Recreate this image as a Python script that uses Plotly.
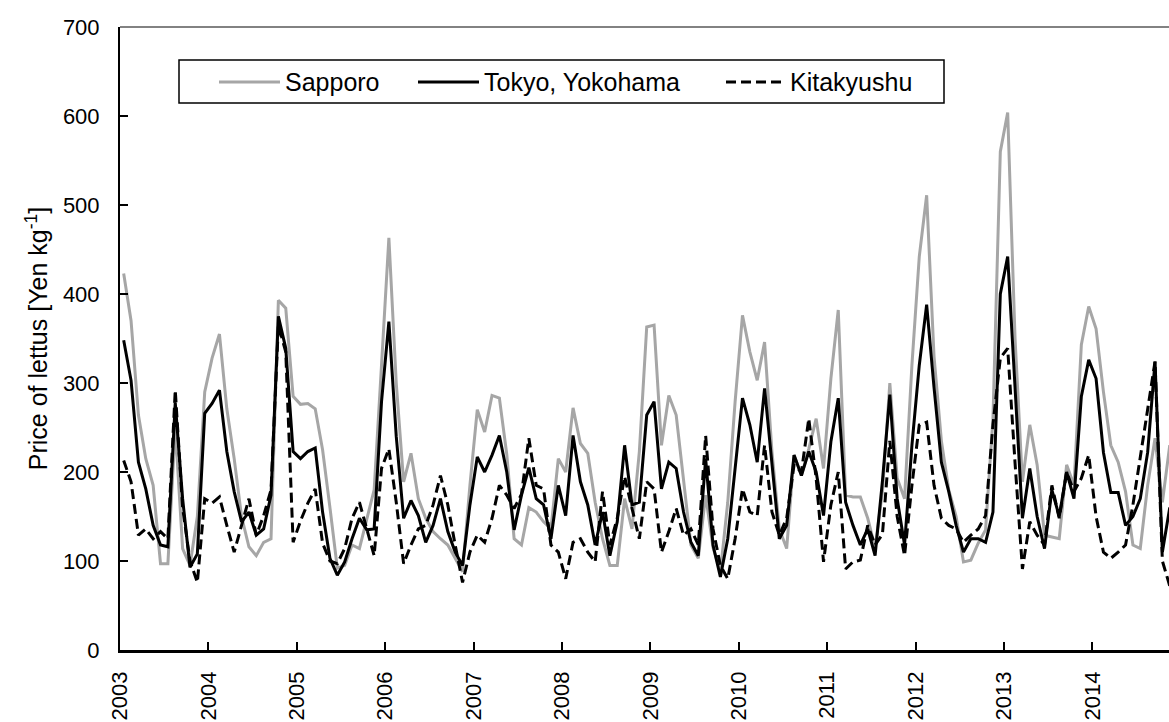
import plotly.graph_objects as go

# Monthly wholesale price of lettuce (Yen per kg), Jan 2003 - Dec 2014
years = [str(y) for y in range(2003, 2015)]

sapporo = [
    423, 370, 264, 215, 185, 97, 97, 250, 114, 95, 150, 290,
    328, 355, 271, 215, 150, 116, 106, 121, 125, 393, 384, 285,
    276, 277, 271, 225, 160, 92, 95, 118, 114, 148, 180, 320,
    463, 300, 189, 221, 170, 148, 133, 125, 118, 103, 88, 185,
    270, 245, 286, 283, 220, 125, 118, 160, 155, 144, 136, 215,
    200, 272, 232, 221, 166, 125, 95, 95, 170, 136, 223, 363,
    365, 230, 286, 264, 193, 118, 103, 174, 115, 88, 166, 279,
    376, 335, 303, 346, 223, 136, 114, 219, 196, 226, 260, 204,
    305, 382, 174, 172, 172, 148, 115, 178, 300, 193, 170, 320,
    442, 511, 330, 235, 180, 150, 99, 101, 120, 135, 260, 560,
    604, 350, 189, 253, 208, 129, 127, 125, 208, 185, 343, 386,
    361, 290, 230, 211, 178, 118, 114, 185, 238, 166, 230, 200,
]

tokyo_yokohama = [
    348, 303, 211, 181, 140, 118, 116, 278, 170, 93, 108, 266,
    277, 292, 223, 178, 144, 155, 129, 136, 174, 375, 339, 223,
    215, 223, 227, 155, 103, 84, 99, 125, 148, 135, 136, 279,
    369, 240, 148, 168, 151, 121, 140, 170, 133, 110, 95, 163,
    217, 200, 219, 241, 200, 135, 174, 205, 170, 163, 125, 185,
    151, 241, 189, 163, 118, 155, 106, 144, 230, 163, 166, 264,
    279, 181, 211, 204, 155, 121, 106, 215, 118, 82, 125, 208,
    283, 253, 211, 294, 208, 125, 140, 219, 196, 223, 200, 151,
    234, 283, 166, 140, 118, 136, 106, 190, 287, 170, 118, 230,
    320, 388, 295, 211, 178, 140, 110, 125, 125, 121, 155, 400,
    442, 290, 148, 204, 150, 114, 180, 150, 200, 170, 285, 326,
    305, 222, 177, 177, 140, 150, 170, 222, 324, 110, 160, 150,
]

kitakyushu = [
    213, 189, 129, 136, 125, 133, 125, 292, 160, 100, 76, 170,
    165, 172, 140, 110, 140, 170, 129, 151, 180, 365, 335, 121,
    145, 165, 181, 120, 100, 97, 114, 148, 166, 136, 106, 204,
    226, 166, 97, 118, 136, 140, 163, 196, 163, 118, 76, 110,
    129, 121, 148, 185, 174, 159, 175, 238, 185, 181, 118, 110,
    80, 121, 125, 110, 99, 178, 118, 148, 195, 159, 125, 189,
    181, 110, 133, 159, 129, 136, 118, 241, 136, 95, 80, 125,
    181, 155, 151, 230, 155, 129, 148, 208, 200, 260, 193, 99,
    163, 200, 91, 99, 101, 140, 118, 130, 235, 150, 106, 185,
    253, 256, 185, 148, 140, 136, 121, 129, 136, 151, 253, 328,
    339, 210, 91, 144, 129, 118, 185, 148, 200, 178, 193, 219,
    150, 110, 103, 110, 118, 163, 215, 271, 324, 100, 72, 80,
]

months = list(range(len(sapporo)))
year_starts = [12 * i - 0.5 for i in range(len(years))]

FONT = "Liberation Sans, Arial, sans-serif"
W, H = 1169, 722
L, R, T, B = 120, 0, 27, 72
PW, PH = W - L - R, H - T - B
MONTH_PX = 88.4 / 12


def px(xp):
    return (xp - L) / PW


def py(yp):
    return (H - B - yp) / PH


fig = go.Figure()
fig.add_trace(go.Scatter(x=months, y=sapporo, mode="lines", name="Sapporo",
                         line=dict(color="#a6a6a6", width=3)))
fig.add_trace(go.Scatter(x=months, y=tokyo_yokohama, mode="lines", name="Tokyo, Yokohama",
                         line=dict(color="#000000", width=3)))
fig.add_trace(go.Scatter(x=months, y=kitakyushu, mode="lines", name="Kitakyushu",
                         line=dict(color="#000000", width=3, dash="10px,5px")))

x_end = -0.5 + PW / MONTH_PX

fig.update_layout(
    width=W, height=H,
    margin=dict(l=L, r=R, t=T, b=B, pad=0),
    paper_bgcolor="white", plot_bgcolor="white",
    showlegend=False,
    font=dict(family=FONT, color="#000000", size=22),
    xaxis=dict(
        range=[-0.5, x_end], tickmode="array", tickvals=year_starts, ticktext=years,
        tickangle=-90, ticks="inside", ticklen=8, tickwidth=1.5, tickcolor="#000000",
        showline=True, linewidth=2.5, linecolor="#000000",
        showgrid=False, zeroline=False, ticklabelstandoff=10,
        tickfont=dict(size=22, family=FONT),
    ),
    yaxis=dict(
        range=[0, 700], dtick=100, ticks="inside", ticklen=8, tickwidth=1.5,
        tickcolor="#000000", showline=True, linewidth=2, linecolor="#000000",
        showgrid=False, zeroline=False, ticklabelstandoff=14,
        tickfont=dict(size=22, family=FONT),
        title=dict(text="Price of lettus [Yen kg<sup>-1</sup>]", standoff=8,
                   font=dict(size=25, family=FONT)),
    ),
)

# top border of the plot frame
fig.add_shape(type="line", xref="paper", yref="paper", x0=0, x1=1, y0=1, y1=1,
              line=dict(color="#595959", width=1.5))

# legend box with line samples
fig.add_shape(type="rect", xref="paper", yref="paper",
              x0=px(179), x1=px(944), y0=py(103), y1=py(60),
              line=dict(color="#000000", width=1.5), fillcolor="white", layer="above")

legend_items = [
    ("Sapporo", dict(color="#a6a6a6", width=3), 219, 280),
    ("Tokyo, Yokohama", dict(color="#000000", width=3), 418, 479),
    ("Kitakyushu", dict(color="#000000", width=3, dash="10px,5px"), 726, 785),
]
ly = py(82)
for label, ln, x0, x1 in legend_items:
    fig.add_shape(type="line", xref="paper", yref="paper", x0=px(x0), x1=px(x1),
                  y0=ly, y1=ly, line=ln, layer="above")
    fig.add_annotation(text=label, xref="paper", yref="paper", x=px(x1 + 3), y=ly,
                       xanchor="left", yanchor="middle", showarrow=False,
                       font=dict(size=25, family=FONT, color="#000000"))

fig.write_html("out.html")
